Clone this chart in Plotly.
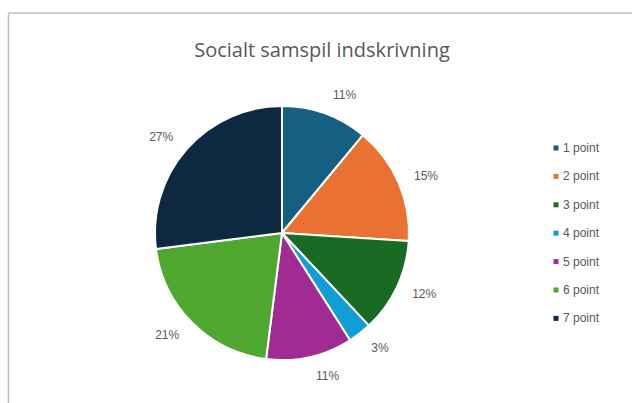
import plotly.graph_objects as go

categories = ["1 point", "2 point", "3 point", "4 point", "5 point", "6 point", "7 point"]
values = [11, 15, 12, 3, 11, 21, 27]
colors = ["#156082", "#E97132", "#196B24", "#0F9ED5", "#A02B93", "#4EA72E", "#0E2841"]
title_text = "Socialt samspil indskrivning"

W, H = 632, 403
cx, cy, r = 282, 233, 127
r_txt = 140


def dom(rad):
    return dict(x=[(cx - rad) / W, (cx + rad) / W], y=[(H - cy - rad) / H, (H - cy + rad) / H])


fig = go.Figure()
# transparent helper pie carrying the outside percentage labels a bit further out
fig.add_trace(go.Pie(
    labels=categories,
    values=values,
    sort=False,
    direction="clockwise",
    rotation=0,
    marker=dict(colors=["rgba(0,0,0,0)"] * len(values), line=dict(width=0)),
    textposition="outside",
    texttemplate="%{percent:.0%}",
    textfont=dict(family="Liberation Sans, Arial", size=12, color="#595959"),
    domain=dom(r_txt),
    showlegend=False,
    hoverinfo="skip",
))
fig.add_trace(go.Pie(
    labels=categories,
    values=values,
    sort=False,
    direction="clockwise",
    rotation=0,
    marker=dict(colors=colors, line=dict(color="white", width=2)),
    textinfo="none",
    domain=dom(r),
    showlegend=False,
    hoverinfo="label+percent",
))

shapes = [
    dict(type="line", xref="paper", yref="paper", x0=8.5 / W, x1=1.02, y0=1 - 13 / H, y1=1 - 13 / H,
         line=dict(color="#BFBFBF", width=1.5)),
    dict(type="line", xref="paper", yref="paper", x0=8.5 / W, x1=8.5 / W, y0=-0.02, y1=1 - 13 / H,
         line=dict(color="#BFBFBF", width=1.5)),
]
annotations = []
leg_x = 556
leg_y0, leg_dy = 148, 28.4
for i, (lab, col) in enumerate(zip(categories, colors)):
    y = leg_y0 + i * leg_dy
    shapes.append(dict(type="rect", xref="paper", yref="paper",
                       x0=(leg_x - 2.5) / W, x1=(leg_x + 2.5) / W,
                       y0=(H - y - 2.5) / H, y1=(H - y + 2.5) / H,
                       fillcolor=col, line=dict(width=0)))
    annotations.append(dict(xref="paper", yref="paper", x=(leg_x + 5) / W, y=(H - y) / H,
                            text=lab, showarrow=False, xanchor="left", yanchor="middle",
                            font=dict(family="Liberation Sans, Arial", size=12, color="#595959")))

fig.update_layout(
    width=W, height=H,
    margin=dict(l=0, r=0, t=0, b=0),
    paper_bgcolor="white",
    title=dict(text=title_text, x=322 / W, xanchor="center", y=1 - 50 / H, yanchor="middle",
               font=dict(family="Open Sans, Arial", size=20, color="#595959")),
    shapes=shapes,
    annotations=annotations,
)

fig.write_html("out.html", config={"displayModeBar": False},
               post_script="document.body.style.margin='0';document.body.style.overflow='hidden';")
